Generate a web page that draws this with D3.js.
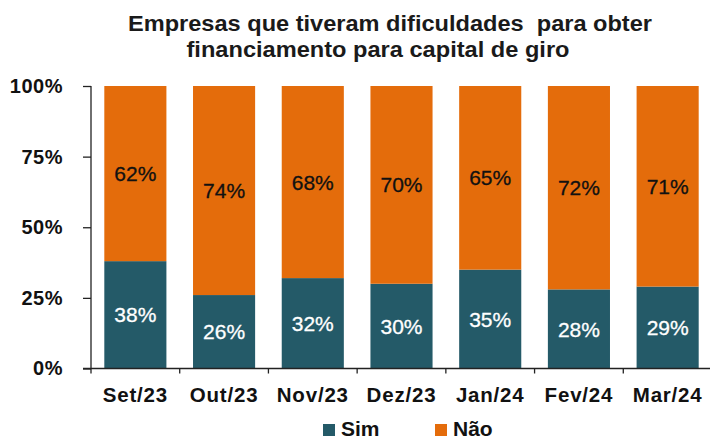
<!DOCTYPE html>
<html>
<head>
<meta charset="utf-8">
<script src="https://cdn.jsdelivr.net/npm/d3@7"></script>
<style>
	body { margin: 0; background: #fff; }
	svg { font-family: 'Liberation Sans', Arial, sans-serif; }
</style>
</head>
<body>
<div id="chart"></div>
<script>
const months = ['Set/23', 'Out/23', 'Nov/23', 'Dez/23', 'Jan/24', 'Fev/24', 'Mar/24']
const sim = [38, 26, 32, 30, 35, 28, 29]
const nao = [62, 74, 68, 70, 65, 72, 71]
const yTicks = [0, 25, 50, 75, 100]
const series = ['Sim', 'Não']
const titleLines = ['Empresas que tiveram dificuldades  para obter', 'financiamento para capital de giro']

var width = 710
var height = 439
var margin = { top: 86, right: -2, bottom: 70, left: 91 }

var colors = { 'Sim': '#245a68', 'Não': '#e46c0b' }

var svg = d3.select('#chart')
	.append('svg')
	.attr('width', width)
	.attr('height', height)

var x = d3.scaleBand()
	.domain(months)
	.range([margin.left, width - margin.right])
	.paddingInner(0.3)
	.paddingOuter(0.15)

var y = d3.scaleLinear()
	.domain([0, 100])
	.range([height - margin.bottom - 0.5, margin.top])

var data = months.map((m, i) => ({ month: m, Sim: sim[i], 'Não': nao[i] }))
var stacked = d3.stack().keys(series)(data)

// title (two lines)
var titleX = [390, 378]
var titleW = [524, 383]
svg.selectAll('text.title')
	.data(titleLines)
	.enter()
	.append('text')
	.attr('class', 'title')
	.attr('x', (d, i) => titleX[i])
	.attr('y', (d, i) => 31 + i * 26)
	.attr('text-anchor', 'middle')
	.attr('textLength', (d, i) => titleW[i])
	.attr('lengthAdjust', 'spacingAndGlyphs')
	.style('font-size', '22px')
	.style('font-weight', 'bold')
	.style('fill', '#1a1a1a')
	.style('white-space', 'pre')
	.text(d => d)

// bars
svg.selectAll('g.layer')
	.data(stacked)
	.enter()
	.append('g')
	.attr('class', 'layer')
	.attr('fill', d => colors[d.key])
	.selectAll('rect')
	.data(d => d)
	.enter()
	.append('rect')
	.attr('x', d => x(d.data.month))
	.attr('width', x.bandwidth())
	.attr('y', d => y(d[1]))
	.attr('height', d => y(d[0]) - y(d[1]))

// value labels
stacked.forEach(layer => {
	svg.selectAll('text.v-' + layer.index)
		.data(layer)
		.enter()
		.append('text')
		.attr('x', d => x(d.data.month) + x.bandwidth() / 2)
		.attr('y', d => (y(d[0]) + y(d[1])) / 2)
		.attr('dy', '0.36em')
		.attr('text-anchor', 'middle')
		.style('font-size', '21px')
		.style('fill', layer.key == 'Sim' ? '#fff' : '#111')
		.style('stroke', layer.key == 'Sim' ? '#fff' : '#111')
		.style('stroke-width', 0.3)
		.text(d => d.data[layer.key] + '%')
})

// y axis
var yAxis = svg.append('g')
	.attr('transform', 'translate(' + margin.left + ',0)')
	.call(d3.axisLeft(y).tickValues(yTicks).tickFormat(d => d + '%').tickSize(8).tickPadding(20))
yAxis.selectAll('path, line').attr('stroke', '#222').attr('stroke-width', 1.3)
yAxis.select('.domain').attr('d', 'M0,' + y(100) + 'V' + y(0))
yAxis.selectAll('text')
	.style('font-size', '20px')
	.style('font-weight', 'bold')
	.style('letter-spacing', '0.5px')
	.style('fill', '#111')
	.style('font-family', 'inherit')

// x axis with ticks at category boundaries
var x0 = y(0)
svg.append('line')
	.attr('x1', margin.left - 8).attr('x2', width)
	.attr('y1', x0).attr('y2', x0)
	.attr('stroke', '#222').attr('stroke-width', 1.3)
var step = x.step()
var bounds = d3.range(months.length).map(i => x(months[i]) - x.paddingInner() * step / 2)
svg.selectAll('line.xt')
	.data(bounds)
	.enter()
	.append('line')
	.attr('x1', d => d).attr('x2', d => d)
	.attr('y1', x0).attr('y2', x0 + 5)
	.attr('stroke', '#222').attr('stroke-width', 1.3)

svg.selectAll('text.xl')
	.data(months)
	.enter()
	.append('text')
	.attr('x', d => x(d) + x.bandwidth() / 2)
	.attr('y', 402)
	.attr('text-anchor', 'middle')
	.style('font-size', '20.5px')
	.style('font-weight', 'bold')
	.style('letter-spacing', '0.8px')
	.style('fill', '#111')
	.text(d => d)

// legend
var legend = svg.selectAll('g.legend')
	.data(series)
	.enter()
	.append('g')
	.attr('transform', (d, i) => 'translate(' + (323 + i * 112) + ',424)')
legend.append('rect')
	.attr('width', 12).attr('height', 12)
	.attr('fill', d => colors[d])
legend.append('text')
	.attr('x', 18)
	.attr('y', 12)
	.style('font-size', '21px')
	.style('font-weight', 'bold')
	.style('fill', '#111')
	.text(d => d)
</script>
</body>
</html>
